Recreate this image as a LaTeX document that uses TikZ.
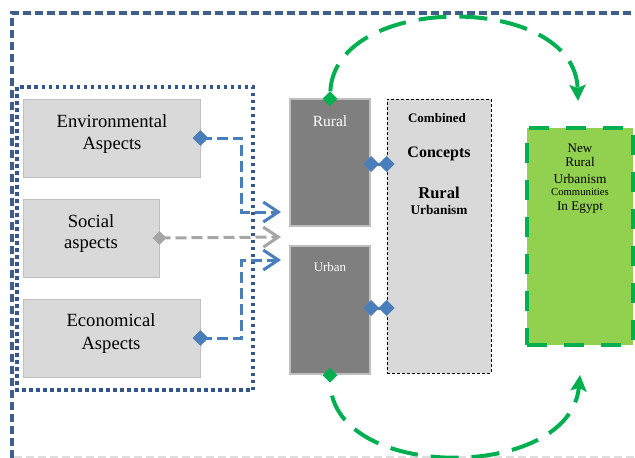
\documentclass[tikz,border=0pt]{standalone}
\usepackage{fontspec}
\setmainfont{Liberation Serif}
\usetikzlibrary{shapes.geometric,arrows.meta}
\definecolor{frameblue}{RGB}{62,94,140}
\definecolor{dotblue}{RGB}{52,86,140}
\definecolor{lineblue}{RGB}{74,126,187}
\definecolor{boxgray}{RGB}{217,217,217}
\definecolor{boxedge}{RGB}{191,191,191}
\definecolor{darkbox}{RGB}{127,127,127}
\definecolor{midgray}{RGB}{166,166,166}
\definecolor{ggreen}{RGB}{0,176,80}
\definecolor{lgreen}{RGB}{146,208,80}
\definecolor{faint}{RGB}{222,222,222}
\tikzset{
  abox/.style={rectangle, fill=boxgray, draw=boxedge, line width=1pt, inner sep=0pt},
  dbox/.style={rectangle, fill=darkbox, draw=boxedge, line width=2.5pt, inner sep=0pt},
  cbox/.style={rectangle, fill=boxgray, draw=black, line width=0.8pt, dash pattern=on 3pt off 2pt, inner sep=0pt},
  gbox/.style={rectangle, fill=lgreen, draw=ggreen, line width=4pt, dash pattern=on 20pt off 17pt, inner sep=0pt},
  bdiam/.style={diamond, fill=lineblue, inner sep=0pt, minimum size=16pt},
  sdiam/.style={diamond, fill=midgray, inner sep=0pt, minimum size=14pt},
  gdiam/.style={diamond, fill=ggreen, inner sep=0pt, minimum size=15pt},
  bline/.style={draw=lineblue, line width=3pt, dash pattern=on 11pt off 5pt, -{Straight Barb[length=15pt,width=20pt]}},
  sline/.style={draw=midgray, line width=3pt, dash pattern=on 11pt off 5pt, -{Straight Barb[length=15pt,width=20pt]}},
  link/.style={draw=lineblue, line width=3pt},
  garc/.style={draw=ggreen, line width=4pt, dash pattern=on 28pt off 13pt, -{Stealth[length=16pt,width=16pt,inset=3pt]}},
  atext/.style={font=\fontsize{18.6}{21}\selectfont, anchor=base, inner sep=0pt},
  wtext/.style={text=white, anchor=base, inner sep=0pt},
  btext/.style={font=\bfseries, anchor=base, inner sep=0pt},
  gtext/.style={anchor=base, inner sep=0pt},
}
\begin{document}
\begin{tikzpicture}[x=1pt,y=-1pt]
\useasboundingbox (0,0) rectangle (635,458);
% frames
\draw[frameblue, line width=3.3pt, dash pattern=on 8pt off 4pt] (12,458) -- (12,13) -- (635,13);
\draw[faint, line width=1.5pt, dash pattern=on 8pt off 4pt] (14,457) -- (635,457);
\draw[dotblue, line width=3.7pt, dash pattern=on 3.5pt off 3.5pt] (17,87) rectangle (253,390);
% aspect boxes
\node[abox, minimum width=177pt, minimum height=78pt] (env) at (111.5,138) {};
\node[abox, minimum width=136pt, minimum height=78pt] (soc) at (91,238) {};
\node[abox, minimum width=177pt, minimum height=78pt] (eco) at (111.5,338) {};
\node[atext] (envt1) at (112,127) {Environmental};
\node[atext] (envt2) at (112,149) {Aspects};
\node[atext] (soct1) at (91,227) {Social};
\node[atext] (soct2) at (91,248) {aspects};
\node[atext] (ecot1) at (111,326) {Economical};
\node[atext] (ecot2) at (111,349) {Aspects};
% rural / urban
\node[dbox, minimum width=80pt, minimum height=127pt] (rural) at (330,162.5) {};
\node[dbox, minimum width=80pt, minimum height=128pt] (urban) at (330,310) {};
\node[wtext, font=\fontsize{15.5}{18}\selectfont] (ruralt) at (330,126) {Rural};
\node[wtext, font=\fontsize{13}{15}\selectfont] (urbant) at (330,271) {Urban};
% combined
\node[cbox, minimum width=104pt, minimum height=274pt] (comb) at (439,236) {};
\node[btext, font=\bfseries\fontsize{13}{15}\selectfont] (ct1) at (437,122) {Combined};
\node[btext, font=\bfseries\fontsize{16}{18}\selectfont] (ct2) at (439,157) {Concepts};
\node[btext, font=\bfseries\fontsize{16.5}{18}\selectfont] (ct3) at (439,198) {Rural};
\node[btext, font=\bfseries\fontsize{13.3}{15}\selectfont] (ct4) at (439,214) {Urbanism};
% green box
\node[gbox, minimum width=106pt, minimum height=217pt] (green) at (580,236.5) {};
\node[gtext, font=\fontsize{13}{15}\selectfont] (gt1) at (580,152) {New};
\node[gtext, font=\fontsize{13.2}{15}\selectfont] (gt2) at (580,166) {Rural};
\node[gtext, font=\fontsize{13.4}{15}\selectfont] (gt3) at (580,183) {Urbanism};
\node[gtext, font=\fontsize{10.7}{12}\selectfont] (gt4) at (580,195) {Communities};
\node[gtext, font=\fontsize{13.2}{15}\selectfont] (gt5) at (580,210) {In Egypt};
% aspect connectors
\coordinate (ae) at (281,212);
\coordinate (as) at (281,237);
\coordinate (ac) at (281,260);
\draw[bline] (env.east) -- ++(41,0) |- (ae);
\draw[sline] (soc.east) -- (as);
\draw[bline] (eco.east) -- ++(41,0) |- (ac);
\node[bdiam] (de) at (env.east) {};
\node[sdiam] (ds) at (soc.east) {};
\node[bdiam] (dc) at (eco.east) {};
% rural/urban to combined
\node[bdiam] (dr1) at ([yshift=-1.5pt]rural.east) {};
\node[bdiam] (dr2) at (dr1 -| comb.west) {};
\draw[link] (dr1.center) -- (dr2.center);
\node[bdiam] (du1) at ([yshift=2pt]urban.east) {};
\node[bdiam] (du2) at (du1 -| comb.west) {};
\draw[link] (du1.center) -- (du2.center);
% green arcs
\node[gdiam] (gr) at ([yshift=-1pt]rural.north) {};
\node[gdiam] (gu) at (urban.south) {};
\coordinate (gtt) at (578,101);
\coordinate (gbt) at (580,375);
\draw[garc] (gr) .. controls (335,-8) and (575,-8) .. (gtt);
\draw[garc, dash phase=28pt] (gu) .. controls (333,482) and (570,482) .. (gbt);
\end{tikzpicture}
\end{document}
